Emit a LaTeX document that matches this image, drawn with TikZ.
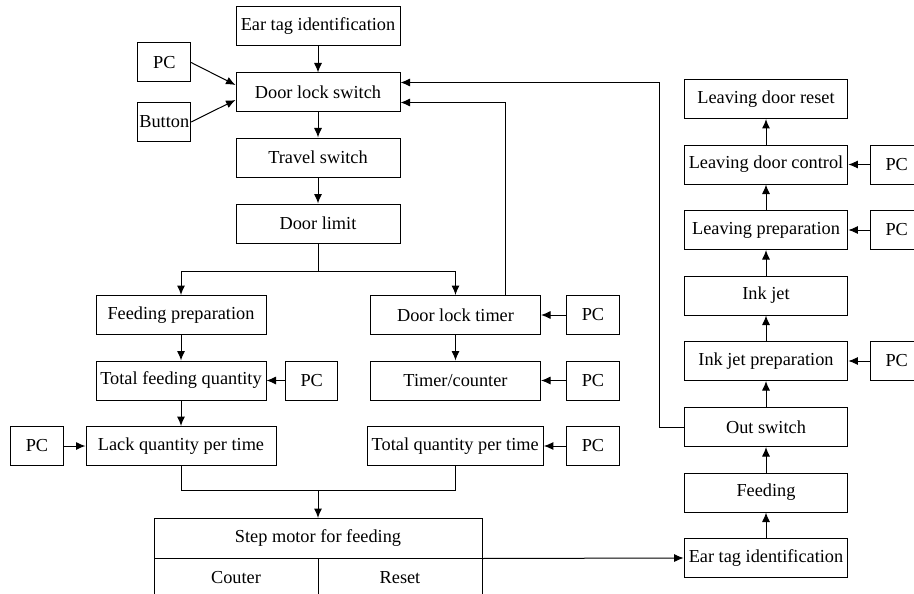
\documentclass[tikz,border=0pt]{standalone}
\usepackage{fontspec}
\setmainfont{Liberation Serif}
\usetikzlibrary{arrows.meta,calc}
\begin{document}
\begin{tikzpicture}[x=1pt,y=-1pt,
  box/.style={draw, line width=1pt, minimum height=39pt, inner sep=0pt, font=\rmfamily\fontsize{18.3}{22}\selectfont},
  arr/.style={-{Latex[length=9.5pt,width=8pt]}, line width=1pt},
  ln/.style={line width=1pt}]
\useasboundingbox (0,0) rectangle (914,594);
\clip (0,0) rectangle (914,594);
% left/top chain
\node[box, minimum width=164pt] (ear1) at (318,26.5) {Ear tag identification};
\node[box, minimum width=164pt] (dls) at (318,92.5) {Door lock switch};
\node[box, minimum width=164pt] (trav) at (318,157.5) {Travel switch};
\node[box, minimum width=164pt] (dlim) at (318,223.5) {Door limit};
\node[box, minimum width=52.7pt] (pcA) at (164.3,62.5) {PC};
\node[box, minimum width=52.7pt] (btn) at (164.3,122) {Button};
% left branch
\node[box, minimum width=170pt] (fp) at (181,315) {Feeding preparation};
\node[box, minimum width=170pt] (tfq) at (181,380.5) {Total feeding quantity};
\node[box, minimum width=52pt] (pcB) at (311.7,380.5) {PC};
\node[box, minimum width=190pt] (lq) at (181,446) {Lack quantity per time};
\node[box, minimum width=52.6pt] (pcC) at (37,446) {PC};
% middle branch
\node[box, minimum width=170pt] (dlt) at (455.5,315) {Door lock timer};
\node[box, minimum width=52.3pt] (pcD) at (593,315) {PC};
\node[box, minimum width=170pt] (tc) at (455.5,380.5) {Timer/counter};
\node[box, minimum width=52.3pt] (pcE) at (593,380.5) {PC};
\node[box, minimum width=176.3pt] (tqt) at (455.2,446) {Total quantity per time};
\node[box, minimum width=52.3pt] (pcF) at (593,446) {PC};
% step motor
\node[box, minimum width=328pt, minimum height=39.5pt] (step) at (318,538.25) {Step motor for feeding};
\node[box, minimum width=164pt] (cou) at (236,577.5) {Couter};
\node[box, minimum width=164pt] (res) at (400,577.5) {Reset};
% right column
\node[box, minimum width=163.7pt] (ldr) at (766,99) {Leaving door reset};
\node[box, minimum width=163.7pt] (ldc) at (766,164.5) {Leaving door control};
\node[box, minimum width=163.7pt] (lp) at (766,230) {Leaving preparation};
\node[box, minimum width=163.7pt] (ij) at (766,295.5) {Ink jet};
\node[box, minimum width=163.7pt] (ijp) at (766,361) {Ink jet preparation};
\node[box, minimum width=163.7pt] (os) at (766,427) {Out switch};
\node[box, minimum width=163.7pt] (fd) at (766,492.5) {Feeding};
\node[box, minimum width=163.7pt] (ear2) at (766,558) {Ear tag identification};
\node[box, minimum width=52pt] (pcG) at (896.7,164.5) {PC};
\node[box, minimum width=52pt] (pcH) at (896.7,230) {PC};
\node[box, minimum width=52pt] (pcI) at (896.7,361) {PC};
% connectors: top chain
\draw[arr] (ear1.south) -- (dls.north);
\draw[arr] (dls.south) -- (trav.north);
\draw[arr] (trav.south) -- (dlim.north);
\draw[arr] (pcA.east) -- ($(dls.west)+(0,-7.5)$);
\draw[arr] (btn.east) -- ($(dls.west)+(0,7.5)$);
% split
\coordinate (sp) at (318,271);
\draw[ln] (dlim.south) -- (sp);
\draw[arr] (sp) -| (fp.north);
\draw[arr] (sp) -| (dlt.north);
% door lock timer feedback
\draw[arr] ($(dlt.north east)+(-36,0)$) |- ($(dls.east)+(0,10)$);
% left branch
\draw[arr] (fp.south) -- (tfq.north);
\draw[arr] (tfq.south) -- (lq.north);
\draw[arr] (pcB.west) -- (tfq.east);
\draw[arr] (pcC.east) -- (lq.west);
% middle branch
\draw[arr] (pcD.west) -- (dlt.east);
\draw[arr] (dlt.south) -- (tc.north);
\draw[arr] (pcE.west) -- (tc.east);
\draw[arr] (pcF.west) -- (tqt.east);
% join to step motor
\coordinate (jn) at (318,490.5);
\draw[ln] (lq.south) |- (jn);
\draw[ln] (tqt.south) |- (jn);
\draw[arr] (jn) -- (step.north);
% to right column
\draw[arr] (step.south east) -- (ear2.west);
\draw[arr] (ear2.north) -- (fd.south);
\draw[arr] (fd.north) -- (os.south);
\draw[arr] (os.north) -- (ijp.south);
\draw[arr] (ijp.north) -- (ij.south);
\draw[arr] (ij.north) -- (lp.south);
\draw[arr] (lp.north) -- (ldc.south);
\draw[arr] (ldc.north) -- (ldr.south);
\draw[arr] (pcG.west) -- (ldc.east);
\draw[arr] (pcH.west) -- (lp.east);
\draw[arr] (pcI.west) -- (ijp.east);
% out switch feedback
\draw[arr] (os.west) -- ++(-24.3,0) |- ($(dls.east)+(0,-10)$);
\end{tikzpicture}
\end{document}
